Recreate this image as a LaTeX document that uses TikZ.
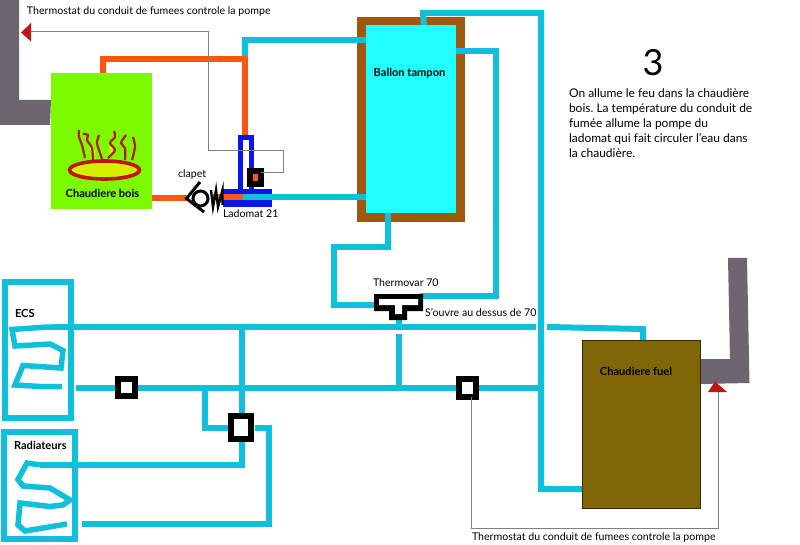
\documentclass[tikz,border=0pt]{standalone}
\usepackage{fontspec}
\setmainfont{Lato}
\usetikzlibrary{positioning, calc, shapes.geometric}
\definecolor{pipecyan}{HTML}{10BFD9}
\definecolor{hotorange}{HTML}{FC5514}
\definecolor{woodgreen}{HTML}{7CFB00}
\definecolor{fuelbrown}{HTML}{7F6708}
\definecolor{tankbrown}{HTML}{A0570F}
\definecolor{tankcyan}{HTML}{22FFFF}
\definecolor{fluegray}{HTML}{6D6670}
\definecolor{flamered}{HTML}{C01515}
\definecolor{flameyellow}{HTML}{D4F000}
\definecolor{ladoblue}{HTML}{0A14F0}
\definecolor{wiregray}{HTML}{808080}

\begin{document}
\begin{tikzpicture}[
      x=1pt, y=-1pt,
      every node/.style={font=\fontsize{10.6}{12}\selectfont, inner sep=0pt, outer sep=0pt},
      boldtext/.style={font=\fontsize{11.1}{12}\selectfont\bfseries},
      box/.style={minimum width=#1, anchor=north west},
      pipe/.style={draw=pipecyan, line width=6pt, line join=miter},
      hotpipe/.style={draw=hotorange, line width=6pt},
      wire/.style={draw=wiregray, line width=1pt},
      bluepipe/.style={draw=ladoblue, line width=5.5pt},
      flame/.style={draw=flamered, line width=2.2pt},
      valve/.style={draw=black, fill=white, line width=6pt, inner sep=0pt},
      flue/.style={fill=fluegray},
    ]
    \useasboundingbox (0,0) rectangle (800,545);

    % flues
    \fill[flue] (0,0) -- (19,0) -- (19,100) -- (51,100) -- (50,125) -- (0,125) -- cycle;
    \fill[flue] (728,258) -- (747,258) -- (749.5,383) -- (700,384) -- (698.5,359) -- (730,359) -- cycle;

    % boilers and tank
    \node[box=101pt, minimum height=136pt, fill=woodgreen] (wood) at (51,73) {};
    \node[box=108pt, minimum height=205.5pt, fill=tankbrown] (shell) at (357,17) {};
    \node[box=90pt, minimum height=188pt, fill=tankcyan] (tank) at (366,25) {};
    \node[box=118pt, minimum height=168pt, fill=fuelbrown, draw=black!60!fuelbrown, line width=.5pt] (fuel) at (582,340) {};

    \node[boldtext] (woodlabel) at (102.5,193.5) {Chaudiere bois};
    \node[boldtext] (tanklabel) at (409.5,73) {Ballon tampon};
    \node[boldtext] (fuellabel) at (636,371) {Chaudiere fuel};

    % fire
    \fill[flameyellow] (89,146) -- (95,150) -- (95,160) -- cycle;
    \fill[flameyellow] (110,143) -- (114,150) -- (109,157) -- cycle;
    \draw[flame] plot[smooth] coordinates {(79,130)(79,137)(82,145)(85,158)};
    \draw[flame] plot[smooth] coordinates {(83,134)(88,135)(87,140)(92,148)(93,160)};
    \draw[flame] plot[smooth] coordinates {(99,135)(97,143)(100,153)(102,159)};
    \draw[flame] plot[smooth] coordinates {(114,131)(115,137)(110,143)(115,150)(108,158)};
    \draw[flame] plot[smooth] coordinates {(126,135)(121,143)(125,148)(125,160)};
    \draw[flame] plot[smooth] coordinates {(133,137)(135,147)(132,160)};
    \node[ellipse, draw=flamered, fill=flameyellow, line width=3.6pt,
          minimum width=70pt, minimum height=18pt] (fire) at (104.5,170) {};

    % coordinates of the circuits
    \coordinate (topA) at (245,40);
    \coordinate (topB) at (245,59);
    \coordinate (hotA) at (103,59);
    \coordinate (clapetL) at (188,198);
    \coordinate (clapetR) at (213,197);
    \coordinate (ladoM) at (243,197);
    \coordinate (tankR) at (496,51);
    \coordinate (tankL) at (334,247);
    \coordinate (riser) at (541,13);
    \coordinate (riserB) at (541,489);
    \coordinate (mainA) at (52,327);
    \coordinate (mainB) at (536,327);
    \coordinate (mainC) at (547,327);
    \coordinate (mainD) at (643,329);
    \coordinate (backA) at (76,388);
    \coordinate (backB) at (541,388);
    \coordinate (tee) at (242,327);
    \coordinate (bypass) at (205,388);
    \coordinate (radA) at (242,465);
    \coordinate (radB) at (269,428);
    \coordinate (radC) at (82,524);

    % ladomat
    \fill[ladoblue] (223,189) rectangle (272,207);
    \draw[bluepipe] (240.5,190) -- (240.5,137.5) -- (251.5,137.5) -- (251.5,190);

    % hot side
    \draw[pipe] (topB) -- (topA) -- (tank.west |- topA);
    \draw[hotpipe] (wood.north -| hotA) -- (hotA) -- (topB) -- (245,135);
    \draw[hotpipe] (wood.east |- clapetL) -- (clapetL);
    \draw[hotpipe] (clapetR) -- (ladoM);
    \draw[pipe] (ladoM) -- (tank.west |- ladoM);

    % tank connections
    \draw[pipe] (424,25) -- (423,13) -- (riser) -- (riserB) -- (fuel.west |- riserB);
    \draw[pipe] (tank.east |- tankR) -- (tankR) -- (496,296) -- (420,296);
    \draw[pipe] (388,213) -- (388,247) -- (tankL) -- (334,305) -- (375,305);
    \draw[pipe] (399,318) -- (399,327);
    \draw[pipe] (399,334) -- (399,388);

    % main lines
    \draw[pipe] (mainA) -- (mainB);
    \draw[pipe] (mainC) -- (mainD) -- (fuel.north -| mainD);
    \draw[pipe] (backA) -- (backB);
    \draw[pipe] (tee) -- (242,413);
    \draw[pipe] (242,440) -- (radA) -- (40,465);
    \draw[pipe] (bypass) -- (205,428) -- (230,428);
    \draw[pipe] (255,428) -- (radB) -- (269,524) -- (radC);

    % emitters
    \node[box=66pt, minimum height=136pt, draw=pipecyan, line width=6pt] (ecs) at (5,282) {};
    \node[box=71.5pt, minimum height=107pt, draw=pipecyan, line width=6pt] (rad) at (3.5,432) {};
    \draw[pipe, line width=5.5pt] (52,327) -- (47,327) -- (12,329.5) -- (15,346) -- (50,344) -- (63,350.5) -- (61,368) -- (23,365.5) -- (15,385) -- (40,386.5) -- (62,386.5);
    \draw[pipe, line width=5.5pt] (40,465) -- (27,463) -- (18,479.5) -- (23,486) -- (50,488) -- (70,500) -- (63,505) -- (50,506.5) -- (20,503) -- (18,525) -- (25,531) -- (67,524);

    % valves
    \node[valve, minimum width=17pt, minimum height=17pt] (valveA) at (126.5,387.5) {};
    \node[valve, minimum width=20pt, minimum height=23pt] (valveB) at (241,427.5) {};
    \node[valve, minimum width=17pt, minimum height=18pt] (valveC) at (467.5,388) {};
    \node[draw=black, fill=hotorange, line width=6pt, minimum width=11pt, minimum height=13pt] (pump) at (255.5,177.5) {};

    % thermovar
    \fill[black] (374,294) -- (423,294) -- (423,311) -- (407,311) -- (407,320) -- (389,320) -- (389,311) -- (374,311) -- cycle;
    \fill[white] (379,299) -- (418,299) -- (418,305) -- (402,305) -- (402,314) -- (395,314) -- (395,305) -- (379,305) -- cycle;

    % clapet
    \draw[line width=3pt, line join=miter] (200,182) -- (186.5,198.5) -- (204,212);
    \draw[line width=3pt] (200.5,198.5) circle (7.5pt);
    \draw[line width=2.4pt] (211,190) -- (213,207) -- (216,190) -- (218,207) -- (222.5,190) -- (222.5,205);

    % thermostat wires
    \draw[wire] (31,32) -- (208,32) -- (208,151) -- (283,151) -- (283,173) -- (pump.east |- 0,173);
    \draw[wire] (valveC.south -| 471,0) -- (471,528) -- (718,528) -- (718,392);
    \fill[flamered] (21,32.5) -- (31,23) -- (31,41.5) -- cycle;
    \fill[flamered] (715,381.5) -- (727,392) -- (708,392) -- cycle;

    % labels
    \node[anchor=west] (woodnote) at (27,12) {Thermostat du conduit de fumees controle la pompe};
    \node[anchor=west] (fuelnote) at (472,538) {Thermostat du conduit de fumees controle la pompe};
    \node[anchor=west] (clapetlabel) at (178,175) {clapet};
    \node[anchor=west] (ladolabel) at (223,214) {Ladomat 21};
    \node[anchor=west] (varlabel) at (373,283) {Thermovar 70};
    \node[anchor=west] (varnote) at (425,312) {S'ouvre au dessus de 70};
    \node[boldtext, anchor=west] (ecslabel) at (15,313) {ECS};
    \node[boldtext, anchor=west] (radlabel) at (14,445) {Radiateurs};
    \node[font=\fontsize{36}{38}\selectfont] (step3) at (653,63) {3};
    \node[anchor=north west, align=left, font=\fontsize{12}{15}\selectfont\frenchspacing] (story) at (569,89)
      {On allume le feu dans la chaudière\\bois. La température du conduit de\\fumée allume la pompe du\\ladomat qui fait circuler l'eau dans\\la chaudière.};
  \end{tikzpicture}
\end{document}
